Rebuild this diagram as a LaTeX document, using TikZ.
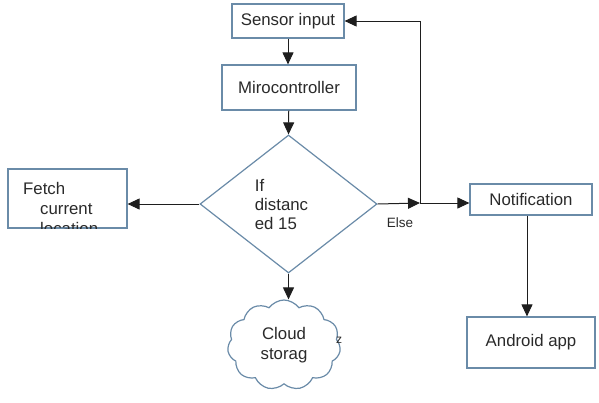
\documentclass[tikz,border=0pt]{standalone}
\usepackage{fontspec}
\setmainfont{Liberation Sans}
\usetikzlibrary{positioning,calc,arrows.meta,shapes.geometric,shapes.symbols}
\definecolor{fcBoxLine}{HTML}{6A8BA8}
\definecolor{fcArrow}{HTML}{1E1E1E}
\definecolor{fcText}{HTML}{2A2A2A}

\tikzset{
  fcbox/.style={draw=fcBoxLine, line width=1.2pt, fill=white, inner sep=0pt,
    text=fcText, font=\fontsize{16.8}{20}\selectfont},
  fcarrow/.style={draw=fcArrow, line width=1pt, -{Triangle[length=12pt,width=11pt]}},
  fcline/.style={draw=fcArrow, line width=1pt}
}

\begin{document}
\begin{tikzpicture}[x=1pt,y=-1pt]

\useasboundingbox (0,0) rectangle (599,402);

% --- BOXES: main column ---
\node[fcbox, minimum width=112pt, minimum height=34pt] (sensor) at (288,21) {Sensor input};
\node[fcbox, minimum width=134pt, minimum height=45pt] (micro) at (289,87.5) {Mirocontroller};

% --- DECISION ---
\node[fcbox, diamond, minimum width=177pt, minimum height=138pt, align=left,
  font=\fontsize{16.8}{19}\selectfont] (dist) at (288.5,204) {If\\distanc\rule{14pt}{0pt}\\ed 15};

% --- LEFT: fetch location (text runs past the box) ---
\node[fcbox, minimum width=119pt, minimum height=59pt] (fetch) at (67.5,198.5) {};
\begin{scope}
  \clip (fetch.north west) rectangle (fetch.south east);
  \node[anchor=north west, align=left, text=fcText, inner sep=0pt,
    font=\fontsize{16.8}{20}\selectfont] (fetchtxt) at (23,182)
    {Fetch\\\hspace*{17pt}current\\\hspace*{17pt}location};
\end{scope}

% --- BOTTOM: cloud storage ---
\node[fcbox, cloud, cloud puffs=11, cloud puff arc=110, aspect=1.25,
  minimum width=113pt, minimum height=90pt, align=center] (cloud) at (284,345) {Cloud\\storag};
\node[text=fcText, inner sep=0pt, font=\fontsize{12}{14}\selectfont] (stray) at (339,340) {z};

% --- RIGHT: notification side ---
\node[fcbox, minimum width=122pt, minimum height=31pt] (notif) at (531,199.5) {Notification};
\node[fcbox, minimum width=128pt, minimum height=51pt] (android) at (531,342.5) {Android app};
\coordinate (junc) at (420,203);

% --- CONNECTORS ---
\draw[fcarrow] (sensor) -- (sensor |- micro.north);
\draw[fcarrow] (micro) -- (dist.north);
\draw[fcarrow] (dist.west) -- (fetch.east |- dist.west);
\draw[fcarrow] (dist.south) -- (dist.south |- cloud.north);
\draw[fcarrow] (dist.east) -- (junc);
\draw[fcarrow] (junc) -- (notif.west |- junc);
\draw[fcarrow] (junc) |- (sensor.east);
\draw[fcarrow] (notif.south -| 527,0) -- (android.north -| 527,0);

% --- LABEL ---
\node[text=fcText, inner sep=0pt, font=\fontsize{13.5}{15}\selectfont] (elselbl) at (400,223) {Else};

\end{tikzpicture}
\end{document}
